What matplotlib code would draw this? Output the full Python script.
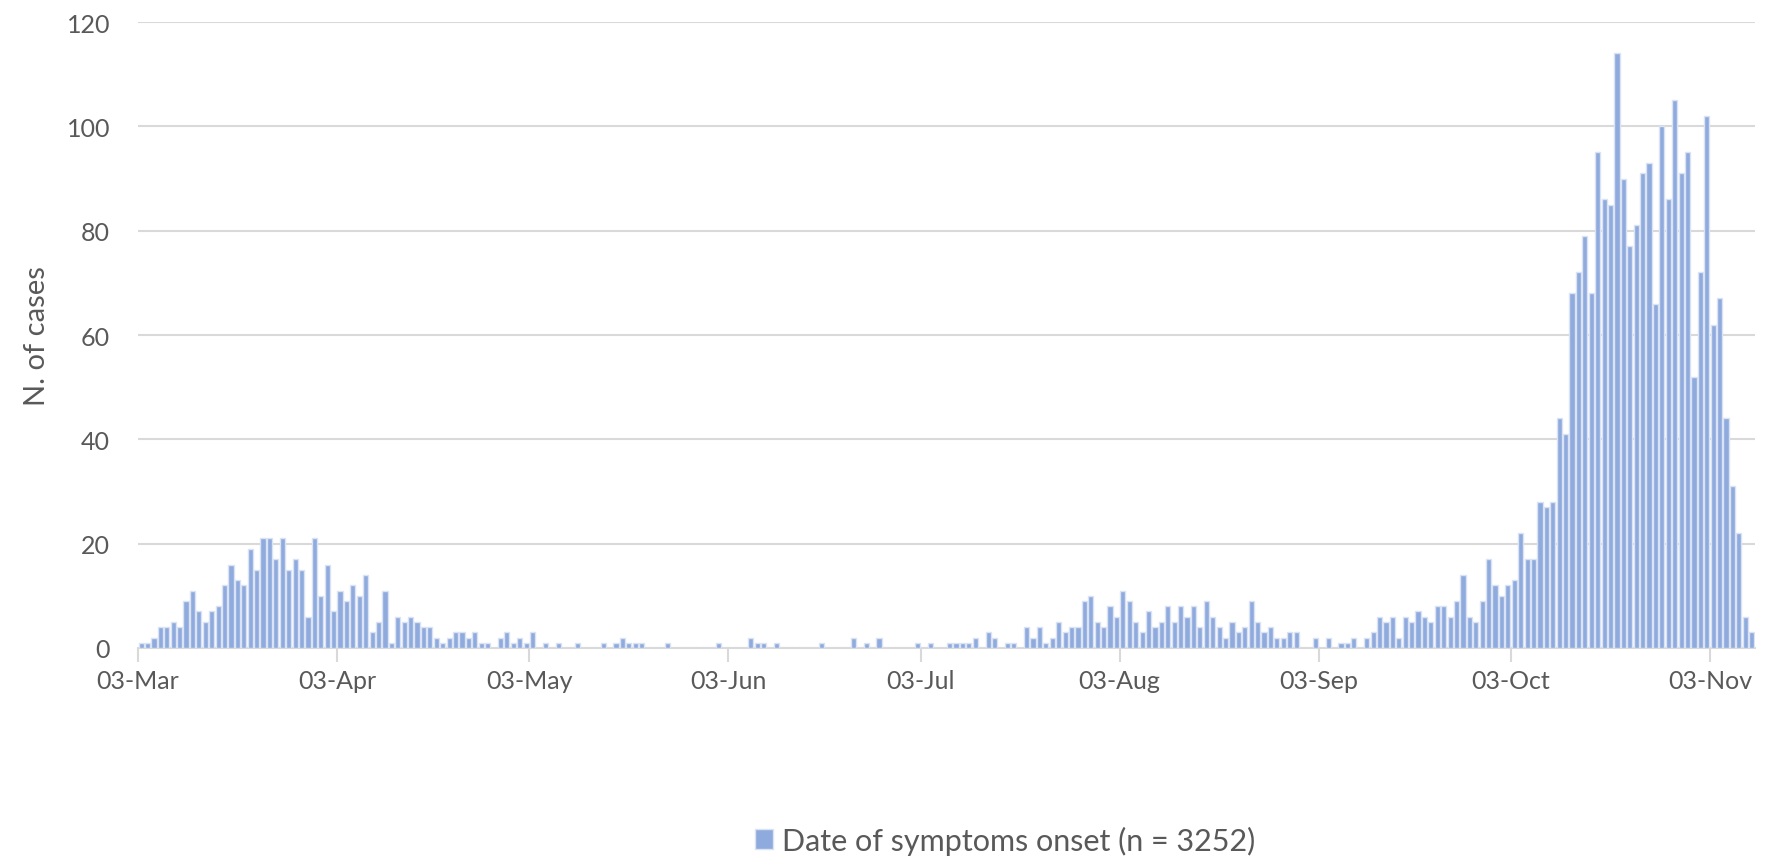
import numpy as np
import pandas as pd
import matplotlib
matplotlib.use('Agg')
import matplotlib.pyplot as plt
from matplotlib.patches import Patch

# daily counts by date of symptoms onset, starting 03-Mar-2020
start_date = '2020-03-03'
cases = [
    # Mar / Apr (days 0-45)
    1, 1, 2, 4, 4, 5, 4, 9, 11, 7, 5, 7, 8, 12, 16, 13, 12, 19, 15, 21,
    21, 17, 21, 15, 17, 15, 6, 21, 10, 16, 7, 11, 9, 12, 10, 14, 3, 5, 11, 1,
    6, 5, 6, 5, 4, 4,
    # days 46-90
    2, 1, 2, 3, 3, 2, 3, 1, 1, 0, 2, 3, 1, 2, 1, 3, 0, 1, 0, 1,
    0, 0, 1, 0, 0, 0, 1, 0, 1, 2, 1, 1, 1, 0, 0, 0, 1, 0, 0, 0,
    0, 0, 0, 0, 1,
    # days 91-134
    0, 0, 0, 0, 2, 1, 1, 0, 1, 0, 0, 0, 0, 0, 0, 1, 0, 0, 0, 0,
    2, 0, 1, 0, 2, 0, 0, 0, 0, 0, 1, 0, 1, 0, 0, 1, 1, 1, 1, 2,
    0, 3, 2, 0,
    # days 135-180
    1, 1, 0, 4, 2, 4, 1, 2, 5, 3, 4, 4, 9, 10, 5, 4, 8, 6, 11, 9,
    5, 3, 7, 4, 5, 8, 5, 8, 6, 8, 4, 9, 6, 4, 2, 5, 3, 4, 9, 5,
    3, 4, 2, 2, 3, 3,
    # days 181-216
    0, 0, 2, 0, 2, 0, 1, 1, 2, 0, 2, 3, 6, 5, 6, 2, 6, 5, 7, 6,
    5, 8, 8, 6, 9, 14, 6, 5, 9, 17, 12, 10, 12, 13, 22, 17,
    # days 217-251
    17, 28, 27, 28, 44, 41, 68, 72, 79, 68, 95, 86, 85, 114, 90, 77, 81, 91, 93, 66,
    100, 86, 105, 91, 95, 52, 72, 102, 62, 67, 44, 31, 22, 6, 3,
]
tick_dates = ['2020-03-03', '2020-04-03', '2020-05-03', '2020-06-03', '2020-07-03',
              '2020-08-03', '2020-09-03', '2020-10-03', '2020-11-03']
tick_labels = ['03-Mar', '03-Apr', '03-May', '03-Jun', '03-Jul',
               '03-Aug', '03-Sep', '03-Oct', '03-Nov']
y_ticks = [0, 20, 40, 60, 80, 100, 120]
series_name = 'Date of symptoms onset (n = 3252)'

BAR = '#8faadc'
EDGE = '#dae3f3'
GRID = '#d9d9d9'
TEXT = '#595959'


def make_fig():
    """Draw the epidemic curve and save it as out.png."""
    plt.rcParams['font.family'] = ['Lato', 'DejaVu Sans']

    fig = plt.figure(figsize=(17.73, 8.62), dpi=100)
    ax = fig.add_axes([0.0778, 0.2471, 0.912, 0.7262])

    # bars, one per day
    days = np.arange(len(cases)) + 0.5
    ax.bar(days, cases, width=0.8, color=BAR, edgecolor=EDGE, linewidth=1.0, zorder=3)

    # axis limits and gridlines
    ax.set_xlim(0, len(cases))
    ax.set_ylim(0, 120)
    ax.set_yticks(y_ticks)
    ax.yaxis.grid(True, color=GRID, linewidth=1.5, zorder=0)
    ax.set_axisbelow(True)

    # date ticks
    start = pd.to_datetime(start_date)
    tick_pos = [(pd.to_datetime(d) - start).days for d in tick_dates]
    ax.set_xticks(tick_pos)
    ax.set_xticklabels(tick_labels)

    for side in ['top', 'right', 'left']:
        ax.spines[side].set_visible(False)
    ax.spines['bottom'].set_color(GRID)
    ax.spines['bottom'].set_linewidth(1.5)

    ax.tick_params(axis='x', colors=GRID, length=10, width=1.5, labelsize=18,
                   labelcolor=TEXT, pad=5)
    ax.tick_params(axis='y', length=0, labelsize=18, labelcolor=TEXT, pad=20)
    ax.set_ylabel('N. of cases', fontsize=21, color=TEXT, labelpad=12)

    # legend below the plot
    handle = Patch(facecolor=BAR, edgecolor=EDGE)
    fig.legend([handle], [series_name], loc='center', bbox_to_anchor=(0.567, 0.024),
               frameon=False, fontsize=22, labelcolor=TEXT, handlelength=0.6,
               handleheight=0.6, handletextpad=0.3)

    fig.savefig('out.png', dpi=100, facecolor='white')


def main():
    make_fig()


main()
